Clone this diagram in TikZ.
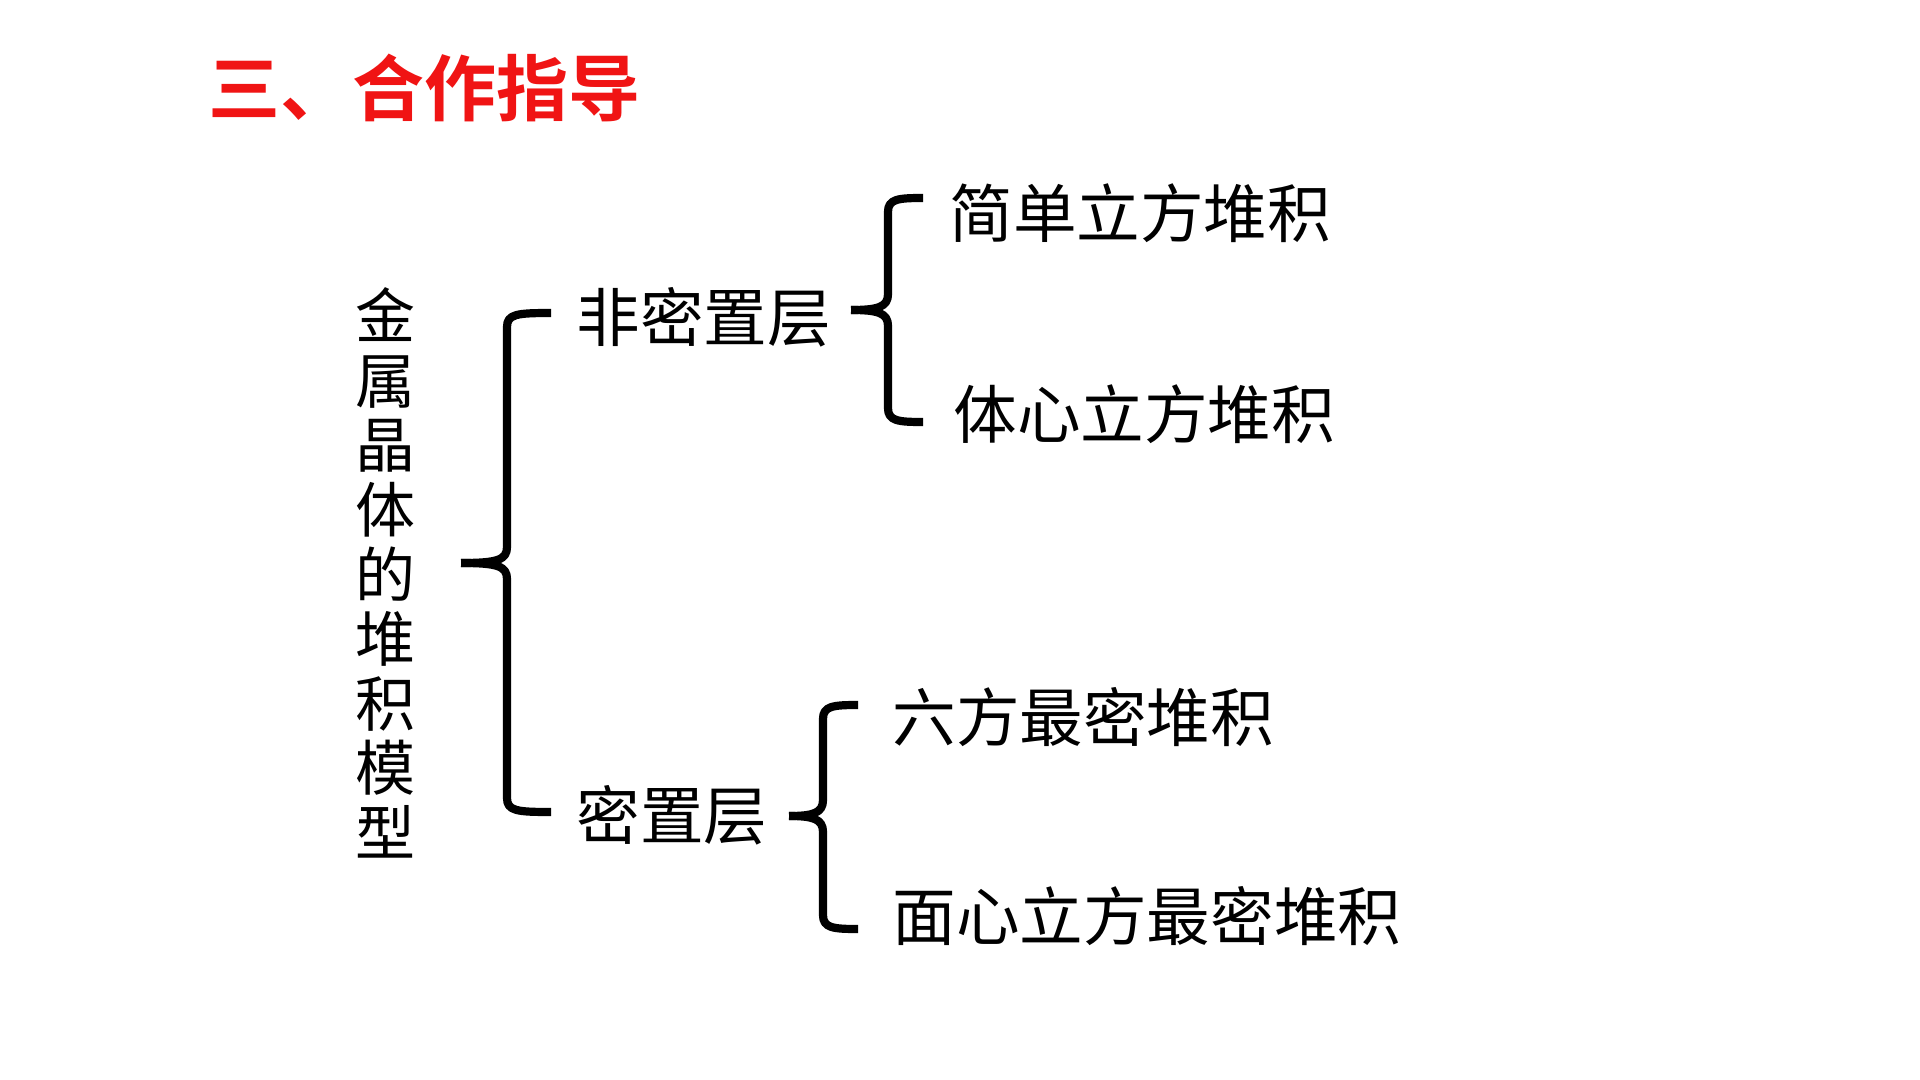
\documentclass[tikz,border=0pt]{standalone}
\usepackage{fontspec}
\newfontfamily\cjk{Noto Sans CJK SC}
\newfontfamily\cjkbold{Noto Sans CJK SC}[BoldFont={* Bold}]
\definecolor{titlered}{RGB}{240,20,20}
\begin{document}
\begin{tikzpicture}[x=0.5pt,y=-0.5pt,
  label/.style={inner sep=0pt,font=\cjk\fontsize{31.8}{31.8}\selectfont},
  brace/.style={line width=4.1pt,line cap=butt,line join=round}]
\fill[white] (0,0) rectangle (1920,1080);
\useasboundingbox (0,0) rectangle (1920,1080);

% title
\node[inner sep=0pt,anchor=west,text=titlered,font=\cjkbold\bfseries\fontsize{36}{36}\selectfont] (title) at (208,88) {三、合作指导};

% vertical root label
\node[inner sep=0pt,align=center,font=\cjk\fontsize{30}{32.3}\selectfont] (root) at (385,573)
  {金\\属\\晶\\体\\的\\堆\\积\\模\\型};

% second level
\node[label,anchor=west] (loose) at (576,317) {非密置层};
\node[label,anchor=west] (dense) at (576,815) {密置层};

% leaves
\node[label,anchor=west] (sc)  at (949,213) {简单立方堆积};
\node[label,anchor=west] (bcc) at (953,414) {体心立方堆积};
\node[label,anchor=west] (hcp) at (892,717) {六方最密堆积};
\node[label,anchor=west] (fcc) at (892,916) {面心立方最密堆积};

% braces: #1 right end x, #2 top y, #3 bottom y, #4 spine x, #5 tip x, #6 tip y
\newcommand{\curlybrace}[6]{%
  \draw[brace] (#1,#2) .. controls (#4+10,#2) and (#4,#2+1) .. (#4,#2+14)
    -- (#4,#6-16) .. controls (#4,#6-3) and (#4-10,#6) .. (#5,#6);
  \draw[brace] (#5,#6) .. controls (#4-10,#6) and (#4,#6+3) .. (#4,#6+16)
    -- (#4,#3-14) .. controls (#4,#3-1) and (#4+10,#3) .. (#1,#3);
}
\curlybrace{551}{313}{812}{507}{461}{563}
\curlybrace{923}{198}{422}{888}{851}{310}
\curlybrace{858}{705}{929}{823}{789}{816}
\end{tikzpicture}
\end{document}
